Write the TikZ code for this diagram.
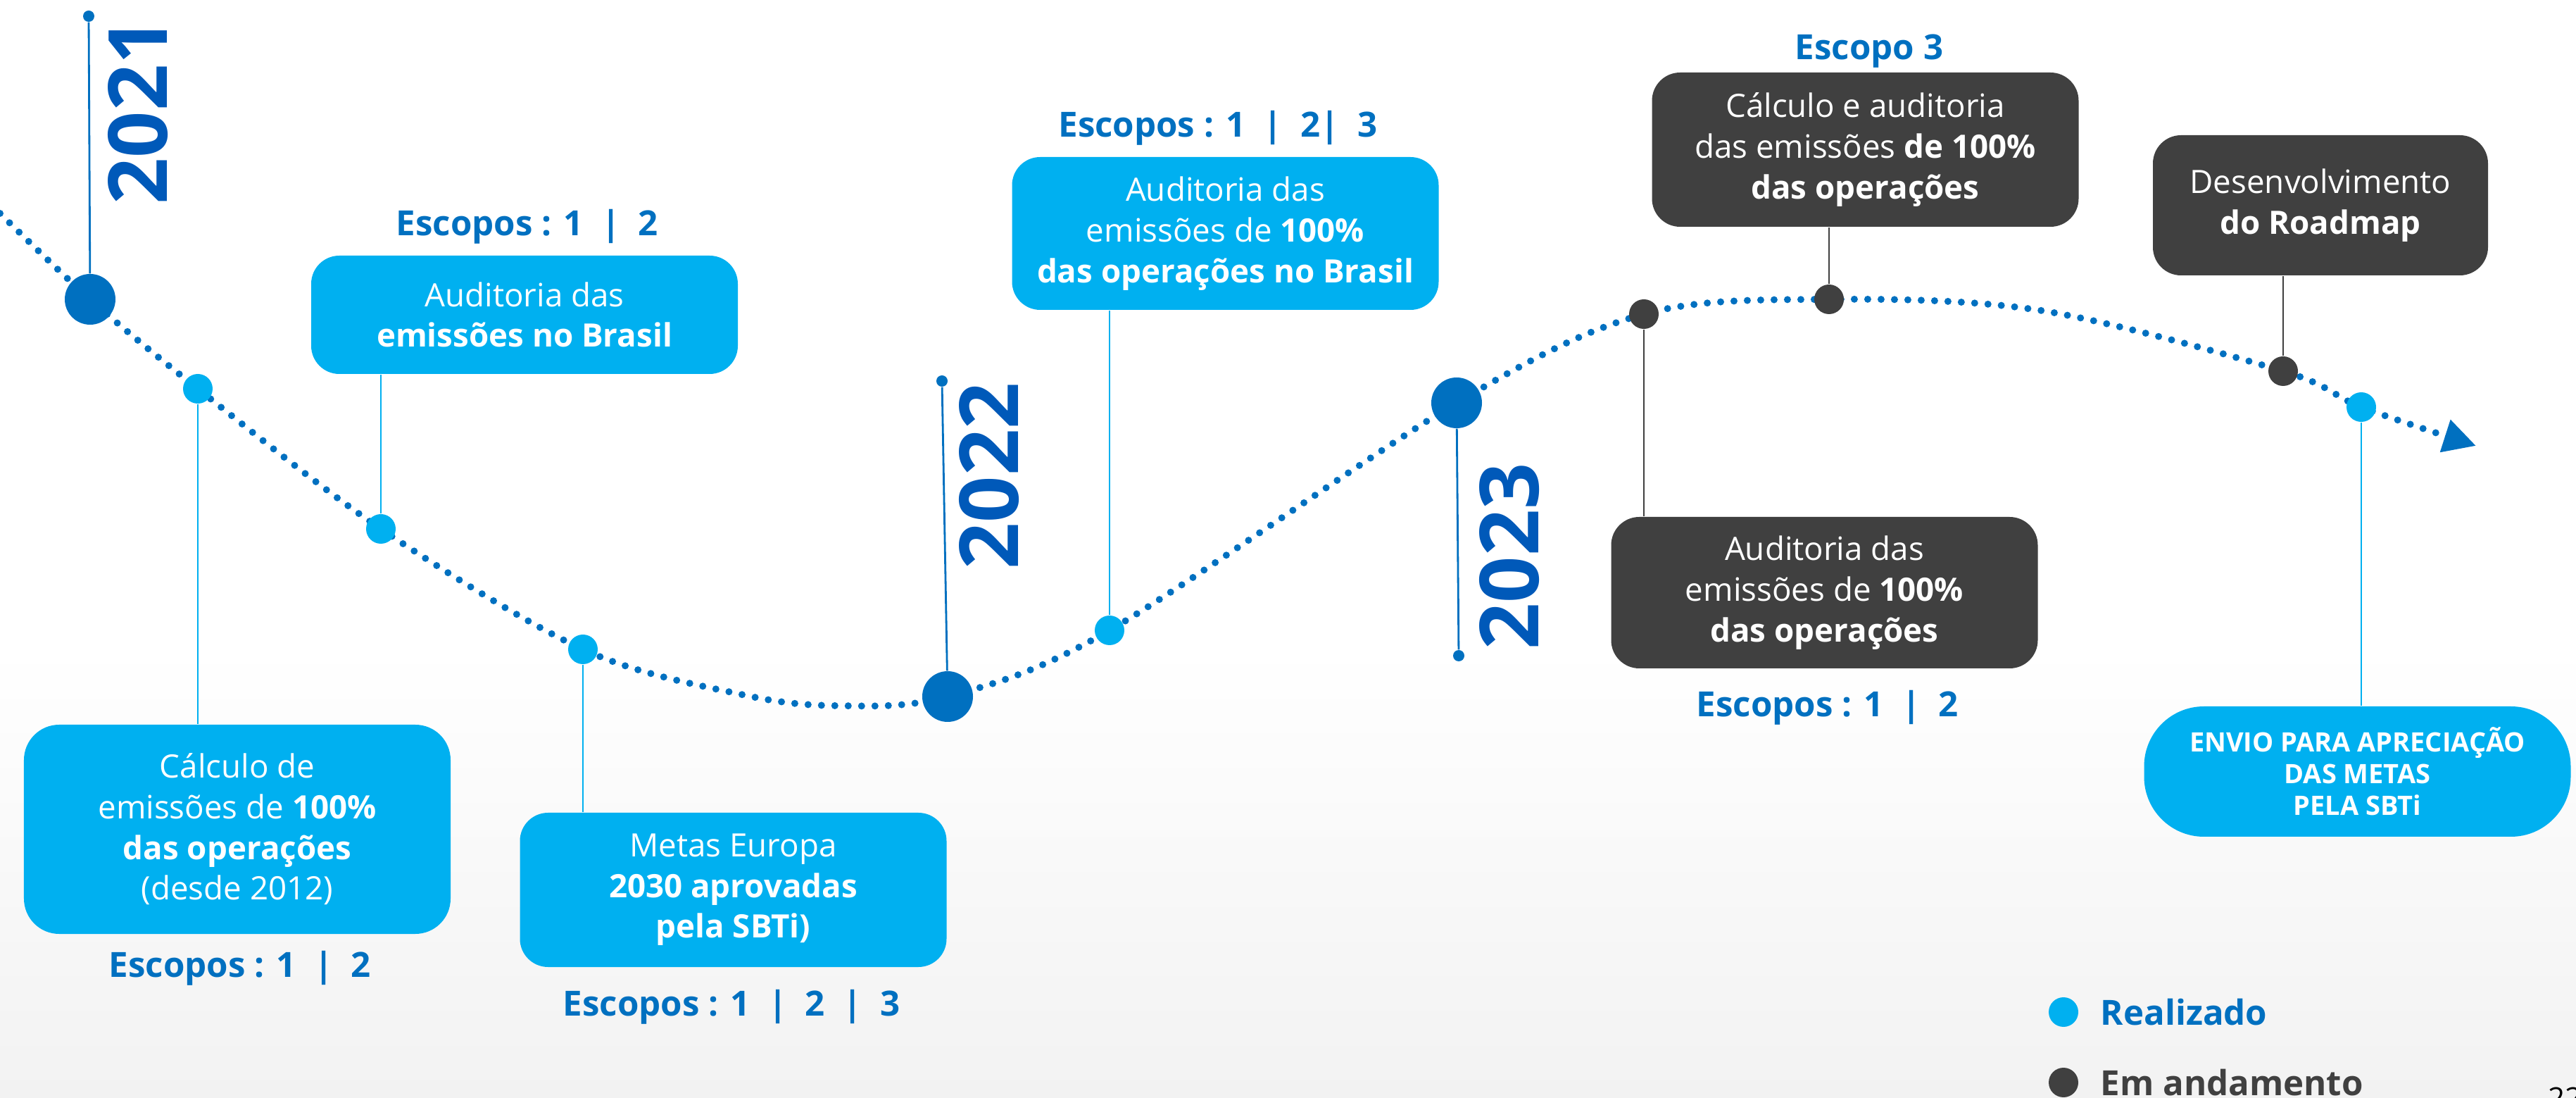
\documentclass[tikz,border=0pt]{standalone}
\usepackage{fontspec}
\setmainfont{Open Sans}
\usetikzlibrary{arrows.meta,backgrounds}
\definecolor{Ocean}{HTML}{0070C0}
\definecolor{Azure}{HTML}{00B0F0}
\definecolor{Royal}{HTML}{0059B9}
\definecolor{Graphite}{HTML}{404040}
\definecolor{Fog}{HTML}{F2F2F2}
\newcommand{\boxfont}{\fontsize{13}{16.4}\selectfont}
\newcommand{\tagfont}{\fontsize{14}{16}\selectfont\bfseries}

\begin{document}
\begin{tikzpicture}[>=Latex,
    marco/.style={circle,fill=Ocean,minimum size=0.72cm,inner sep=0pt},
    feito/.style={circle,fill=Azure,minimum size=0.42cm,inner sep=0pt},
    andamento/.style={circle,fill=Graphite,minimum size=0.42cm,inner sep=0pt},
    pino/.style={circle,fill=Ocean,minimum size=0.16cm,inner sep=0pt},
    caixa/.style={rounded corners=0.4cm,inner sep=0pt,align=center,text=white,font=\boxfont,minimum width=6.06cm},
    caixaazul/.style={caixa,fill=Azure},
    caixacinza/.style={caixa,fill=Graphite},
    escopo/.style={font=\tagfont,text=Ocean,inner sep=0pt},
    ano/.style={font=\fontsize{33}{36}\selectfont\bfseries,text=Royal,rotate=90,inner sep=0pt},
    haste/.style={Ocean,line width=0.8pt},
    ligazul/.style={Azure,line width=0.8pt},
    ligcinza/.style={Graphite,line width=0.8pt},
    trilha/.style={Ocean,line width=0.1cm,line cap=round,dash pattern=on 0pt off 0.19cm}]
  \useasboundingbox (0,0) rectangle (36.59,15.58);

  % marcos da linha do tempo
  \foreach \n/\x/\y in {n21/1.28/11.33, n22/13.46/5.69, n23/20.69/9.86}
    \node[marco] (\n) at (\x,\y) {};
  \foreach \n/\x/\y in {a/2.81/10.06, b/5.41/8.07, c/8.28/6.36, d/15.76/6.63, h/33.54/9.80}
    \node[feito] (\n) at (\x,\y) {};
  \foreach \n/\x/\y in {e/23.35/11.12, f/25.98/11.33, g/32.43/10.31}
    \node[andamento] (\n) at (\x,\y) {};
  \coordinate (inicio) at (0,12.55);
  \coordinate (desce) at (10.53,5.72);
  \coordinate (vale) at (11.90,5.56);
  \coordinate (cume) at (29.00,11.17);
  \coordinate (ponta) at (35.17,9.25);

  % anos
  \node[ano] (y21) at (1.96,14.00) {2021};
  \node[ano] (y22) at (14.05,8.82) {2022};
  \node[ano] (y23) at (21.44,7.68) {2023};
  \node[pino] (p21) at (1.26,15.35) {};
  \node[pino] (p22) at (13.38,10.17) {};
  \node[pino] (p23) at (20.72,6.27) {};
  \draw[haste] (p21) -- (n21);
  \draw[haste] (p22) -- (n22);
  \draw[haste] (n23) -- (p23);

  % caixas
  \node[caixaazul,rounded corners=0.5cm,minimum height=2.97cm] (bx1) at (3.37,3.805) {
    Cálculo de\\ emissões de \textbf{100\%}\\ \textbf{das operações}\\ (desde 2012)};
  \node[caixaazul,minimum height=1.68cm] (bx2) at (7.45,11.11) {
    Auditoria das\\ \textbf{emissões no Brasil}};
  \node[caixaazul,minimum height=2.19cm] (bx3) at (10.415,2.945) {
    Metas Europa\\ \textbf{2030 aprovadas}\\ \textbf{pela SBTi)}};
  \node[caixaazul,minimum height=2.17cm] (bx4) at (17.405,12.265) {
    Auditoria das\\ emissões de \textbf{100\%}\\ \textbf{das operações no Brasil}};
  \node[caixacinza,minimum height=2.19cm] (bx5) at (26.495,13.455) {
    Cálculo e auditoria\\ das emissões \textbf{de 100\%}\\ \textbf{das operações}};
  \node[caixacinza,minimum height=2.15cm] (bx6) at (25.915,7.165) {
    Auditoria das\\ emissões de \textbf{100\%}\\ \textbf{das operações}};
  \node[caixacinza,minimum height=1.99cm,minimum width=4.76cm] (bx7) at (32.96,12.665) {
    Desenvolvimento\\ \textbf{do Roadmap}};
  \node[caixaazul,rounded corners=0.85cm,minimum height=1.85cm,
        font=\fontsize{10.8}{12.8}\selectfont\bfseries] (bx8) at (33.485,4.625) {
    ENVIO PARA APRECIAÇÃO\\ DAS METAS\\ PELA SBTi};

  \draw[ligazul] (a) -- (a |- bx1.north);
  \draw[ligazul] (b) -- (b |- bx2.south);
  \draw[ligazul] (c) -- (c |- bx3.north);
  \draw[ligazul] (d) -- (d |- bx4.south);
  \draw[ligcinza] (f) -- (f |- bx5.south);
  \draw[ligcinza] (e) -- (e |- bx6.north);
  \draw[ligcinza] (g) -- (g |- bx7.south);
  \draw[ligazul] (h) -- (h |- bx8.north);

  % escopos
  \node[escopo] (es1) at (3.41,1.83) {Escopos : 1 \ | \ 2};
  \node[escopo] (es2) at (7.49,12.36) {Escopos : 1 \ | \ 2};
  \node[escopo] (es3) at (10.39,1.28) {Escopos : 1 \ | \ 2 \ | \ 3};
  \node[escopo] (es4) at (17.30,13.76) {Escopos : 1 \ | \ 2| \ 3};
  \node[escopo] (es5) at (26.55,14.85) {Escopo 3};
  \node[escopo] (es6) at (25.96,5.53) {Escopos : 1 \ | \ 2};

  % legenda
  \node[feito] (leg1) at (29.31,1.21) {};
  \node[andamento] (leg2) at (29.31,0.21) {};
  \node[escopo,anchor=west] (t1) at (29.83,1.21) {Realizado};
  \node[escopo,anchor=west,text=Graphite] (t2) at (29.83,0.21) {Em andamento};
  \node[anchor=north west,inner sep=0pt,font=\fontsize{12}{14}\selectfont] (pg) at (36.19,0.15) {22};

  \begin{scope}[on background layer]
    \fill[white] (0,0) rectangle (36.59,15.58);
    \shade[top color=white,bottom color=Fog] (0,0) rectangle (36.59,6.4);
    \draw[trilha,-{Triangle[length=0.46cm,width=0.46cm]}] plot[smooth,tension=0.55] coordinates {
      (inicio) (n21.center) (a.center) (b.center) (c.center) (desce) (vale) (n22.center)
      (d.center) (n23.center) (e.center) (f.center) (cume) (g.center) (h.center) (ponta)};
  \end{scope}
\end{tikzpicture}
\end{document}
